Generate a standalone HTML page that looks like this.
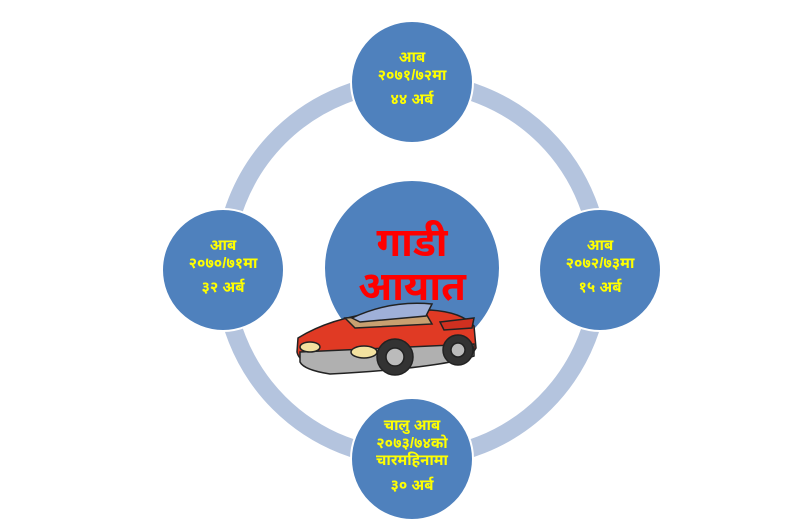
<!DOCTYPE html>
<html><head><meta charset="utf-8"><style>
html,body{margin:0;padding:0;background:#fff;width:810px;height:525px;overflow:hidden}
svg text{font-family:"Liberation Sans","Noto Sans Devanagari","Lohit Devanagari",sans-serif;font-weight:bold}
</style></head><body>
<svg width="810" height="525" viewBox="0 0 810 525" xmlns="http://www.w3.org/2000/svg">
<circle cx="412" cy="270" r="188" fill="none" stroke="#b4c4de" stroke-width="18"/>
<g fill="#4f81bd" stroke="#fff" stroke-width="2">
<circle cx="412" cy="82" r="61"/>
<circle cx="223" cy="270" r="61"/>
<circle cx="600" cy="270" r="61"/>
<circle cx="412" cy="459" r="61"/>
<circle cx="412" cy="268" r="88"/>
</g>
<g fill="#ffff00" font-size="15" text-anchor="middle">
<text x="412" y="62">आब</text>
<text x="412" y="80">२०७१/७२मा</text>
<text x="412" y="104">४४ अर्ब</text>
<text x="223" y="250">आब</text>
<text x="223" y="268">२०७०/७१मा</text>
<text x="223" y="292">३२ अर्ब</text>
<text x="600" y="250">आब</text>
<text x="600" y="268">२०७२/७३मा</text>
<text x="600" y="292">१५ अर्ब</text>
<text x="412" y="430">चालु आब</text>
<text x="412" y="448">२०७३/७४को</text>
<text x="412" y="465">चारमहिनामा</text>
<text x="412" y="490">३० अर्ब</text>
</g>
<g fill="#ff0000" font-size="40" text-anchor="middle">
<text x="412" y="256">गाडी</text>
<text x="412" y="300">आयात</text>
</g>
<g stroke="#222" stroke-width="1.5">
<path d="M298 338 Q330 318 380 312 L430 310 Q462 312 474 326 L476 348 Q470 360 440 362 L330 368 Q300 366 297 352 Z" fill="#e03a24"/>
<path d="M345 318 L425 312 L432 324 L355 328 Z" fill="#c8a070"/>
<path d="M352 318 Q390 300 432 304 L426 316 L360 322 Z" fill="#9fb0d8"/>
<path d="M300 352 L474 344 L474 356 Q440 368 330 374 Q304 370 300 362 Z" fill="#b0b0b0"/>
<ellipse cx="310" cy="347" rx="10" ry="5" fill="#f3e2a0"/>
<ellipse cx="364" cy="352" rx="13" ry="6" fill="#f3e2a0"/>
<circle cx="395" cy="357" r="18" fill="#333"/>
<circle cx="395" cy="357" r="9" fill="#bbb"/>
<circle cx="458" cy="350" r="15" fill="#333"/>
<circle cx="458" cy="350" r="7" fill="#bbb"/>
<path d="M440 322 L474 318 L472 328 L444 330 Z" fill="#d03020"/>
</g>
</svg>
</body></html>
